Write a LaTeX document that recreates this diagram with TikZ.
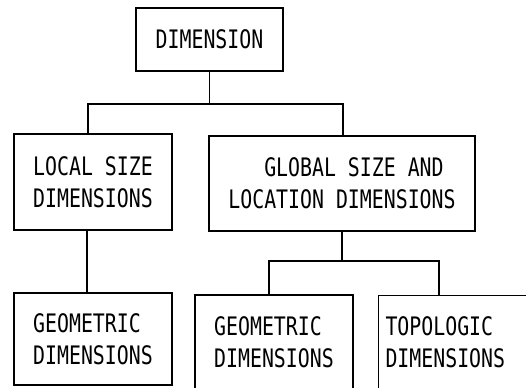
\documentclass[tikz,border=0pt]{standalone}
\usepackage{fontspec}
\setmonofont[FakeStretch=0.78]{DejaVu Sans Mono}
\begin{document}
\begin{tikzpicture}[
    x=0.75pt, y=-0.75pt,
    font=\ttfamily\fontsize{19.1}{24}\selectfont,
    box/.style={draw, line width=0.8pt, align=left, inner sep=0pt, minimum width=118.5pt},
    link/.style={line width=0.8pt}
]
\clip (0,0) rectangle (526,387);

% top level
\node[box, minimum width=110.25pt, minimum height=47.25pt] (dim) at (209.5,39.5) {DIMENSION};

% second level
\node[box, minimum height=72pt] (local) at (93,182) {LOCAL SIZE\\DIMENSIONS};
\node[box, minimum width=199.5pt, minimum height=71.25pt] (global) at (342,183.5) {\hphantom{XXX}GLOBAL SIZE AND\\LOCATION DIMENSIONS};

% third level
\node[box, minimum height=69pt] (geoA) at (93,339) {GEOMETRIC\\DIMENSIONS};
\node[box, minimum height=70.5pt] (geoB) at (274,342) {GEOMETRIC\\DIMENSIONS};
\node[box, anchor=north west, minimum height=70.5pt, inner xsep=5.25pt, text width=108pt] (topo) at (378,295) {TOPOLOGIC\\DIMENSIONS};

% junctions
\coordinate (a1) at (88,104);
\coordinate (a2) at (343,104);
\coordinate (c1) at (87,260);
\coordinate (b1) at (269,261);
\coordinate (b2) at (439,261);

% connectors
\draw[link] (dim.south) -- (dim.south |- a1);
\draw[link] (a1 |- local.north) -- (a1) -- (a2) -- (a2 |- global.north);
\draw[link] (c1 |- local.south) -- (c1 |- geoA.north);
\draw[link] (global.south) -- (global.south |- b1);
\draw[link] (b1 |- geoB.north) -- (b1) -- (b2) -- (b2 |- topo.north);

\end{tikzpicture}
\end{document}
